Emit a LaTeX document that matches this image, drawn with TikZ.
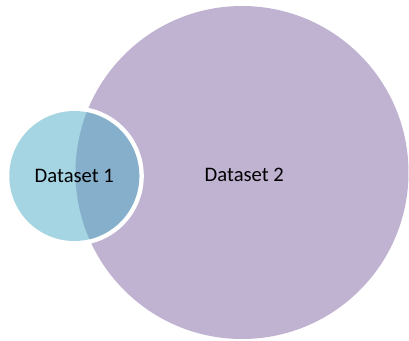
\documentclass[tikz,border=0pt]{standalone}
\usepackage{fontspec}
\setmainfont{Carlito}
\definecolor{setpurple}{HTML}{C0B2D1}
\definecolor{setaqua}{HTML}{A5D5E2}
\definecolor{setmix}{HTML}{85AFCB}
\tikzset{
  setlabel/.style={
    font=\fontsize{20.7}{25}\selectfont,
    text=black,
    inner sep=0pt
  }
}

\begin{document}
\begin{tikzpicture}[x=1bp,y=-1bp]
\newcommand{\rbig}{166.5}
\newcommand{\rsmall}{65}
\newcommand{\rwhite}{69.5}

\useasboundingbox (0,0) rectangle (409,341);
\coordinate (c2) at (242,172.5);
\coordinate (c1) at (74.3,176);
\fill [setpurple] (c2) circle (\rbig);
\fill [white] (c1) circle (\rwhite);
\fill [setaqua] (c1) circle (\rsmall);
% overlap of the two sets
\begin{scope}
\clip (c2) circle (\rbig);
\fill [setmix] (c1) circle (\rsmall);
\end{scope}
\node [setlabel] (set1) at (74.3,176) {Dataset 1};
\node [setlabel] (set2) at (244.3,175) {Dataset 2};
\end{tikzpicture}
\end{document}
